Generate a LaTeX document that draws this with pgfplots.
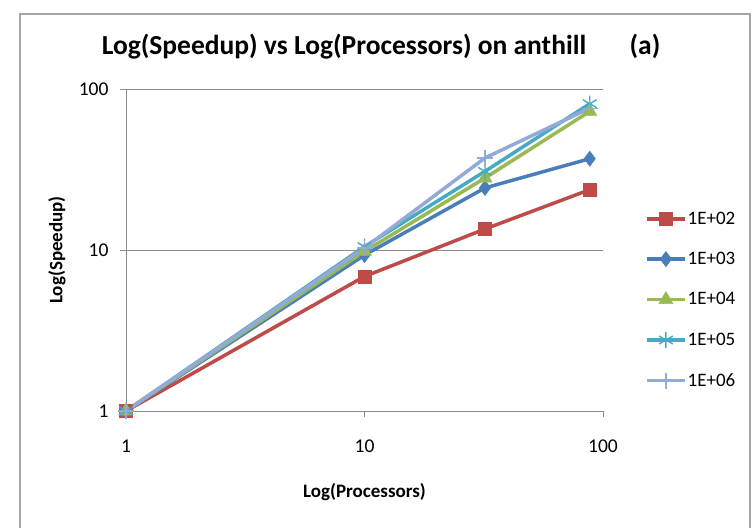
\documentclass[border=0pt]{standalone}
\usepackage{fontspec}
\setmainfont{Carlito}
\usepackage{pgfplots}
\pgfplotsset{compat=1.18}

\definecolor{cred}{HTML}{BE4B48}
\definecolor{cblue}{HTML}{4A7EBB}
\definecolor{cgreen}{HTML}{98B954}
\definecolor{ccyan}{HTML}{46AAC5}
\definecolor{clav}{HTML}{93A9D7}
\definecolor{cframe}{HTML}{A6A6A6}
\definecolor{cgrid}{HTML}{8C8C8C}

\begin{document}
\begin{tikzpicture}[x=1pt,y=1pt]
\path[use as bounding box] (-126,-116) rectangle (628,411);
% chart area border
\draw[line width=1.6pt, cframe] (-106,-130) -- (-106,397) -- (624,397) -- (624,-130);
\begin{axis}[
  scale only axis, width=477pt, height=322pt,
  at={(0,0)}, anchor=south west,
  xmode=log, ymode=log,
  xmin=1, xmax=100, ymin=1, ymax=100,
  axis x line*=bottom, axis y line*=left,
  axis line style={cgrid, line width=0.9pt, -},
  xtick={1,10,100}, xticklabels={1,10,100},
  ytick={1,10,100}, yticklabels={1,10,100},
  minor tick length=0pt,
  tick align=outside, major tick length=6pt,
  tick style={cgrid, line width=0.9pt},
  ymajorgrids, grid style={cgrid, line width=0.9pt},
  xticklabel shift=19pt, yticklabel shift=8pt,
  ticklabel style={font=\fontsize{19.5}{22}\selectfont},
  /pgf/number format/assume math mode=true,
  clip=false,
  legend style={at={(rel axis cs:1.088,0.622)}, anchor=north west,
    draw=none, fill=none, inner sep=0pt, row sep=24.5pt,
    font=\fontsize{19}{21}\selectfont,
    nodes={inner sep=1pt}},
  legend cell align=left,
  legend image code/.code={
    \draw[#1, mark=none] (0pt,0pt) -- (38pt,0pt);
    \draw[#1, only marks] plot coordinates {(19pt,0pt)};
  },
]
\addplot[cred, line width=3.5pt, mark=square*, mark size=6.5pt, mark options={line width=0.6pt}]
  coordinates {(1,1) (10,6.85) (32,13.5) (88,23.7)};
\addlegendentry{1E+02}
\addplot[cblue, line width=3.5pt, mark=diamond*, mark size=7.5pt, mark options={line width=0.6pt}]
  coordinates {(1,1) (10,9.3) (32,24.3) (88,36.9)};
\addlegendentry{1E+03}
\addplot[cgreen, line width=3.5pt, mark=triangle*, mark size=8pt, mark options={line width=0.6pt}]
  coordinates {(1,1) (10,9.8) (32,28) (88,72.6)};
\addlegendentry{1E+04}
\addplot[ccyan, line width=3.5pt, mark=asterisk, mark size=8pt, mark options={line width=1.4pt}]
  coordinates {(1,1) (10,10.5) (32,30.8) (88,81)};
\addlegendentry{1E+05}
\addplot[clav, line width=3.5pt, mark=+, mark size=8pt, mark options={line width=1.2pt}]
  coordinates {(1,1) (10,10.3) (32,37.3) (88,76)};
\addlegendentry{1E+06}

\node[anchor=base, font=\bfseries\fontsize{27.5}{32}\selectfont]
  at (rel axis cs:0,0) [xshift=218pt, yshift=356pt] {Log(Speedup) vs Log(Processors) on anthill};
\node[anchor=base, font=\bfseries\fontsize{27.5}{32}\selectfont]
  at (rel axis cs:0,0) [xshift=519pt, yshift=356pt] {(a)};
\node[anchor=center, font=\bfseries\fontsize{19}{22}\selectfont]
  at (rel axis cs:0.5,0) [yshift=-81.5pt] {Log(Processors)};
\node[xshift=-69pt, anchor=center, rotate=90, font=\bfseries\fontsize{19}{22}\selectfont]
  at (rel axis cs:0,0.5) {Log(Speedup)};
\end{axis}
\end{tikzpicture}
\end{document}
